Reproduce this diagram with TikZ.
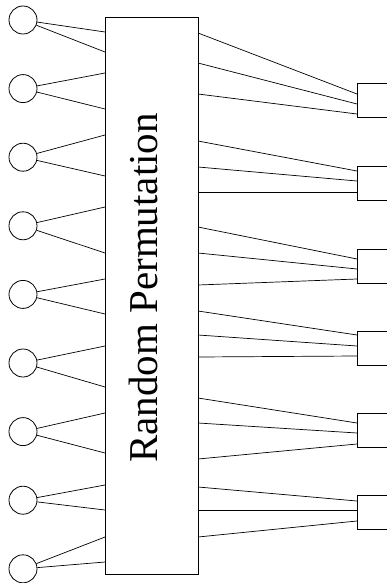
\documentclass[tikz,border=0pt]{standalone}
\usepackage{fontspec}
\setmainfont{Liberation Serif}
\begin{document}
\begin{tikzpicture}[x=1pt,y=-1pt,
  inp/.style={circle,draw,line width=0.8pt,minimum size=28pt,inner sep=0pt},
  outbox/.style={rectangle,draw,line width=0.8pt,minimum width=60pt,minimum height=34pt,inner sep=0pt,anchor=north west},
  permbox/.style={rectangle,draw,line width=0.8pt,minimum width=93pt,minimum height=557pt,inner sep=0pt,anchor=north west},
  wire/.style={line width=0.7pt},
  lbl/.style={rotate=90,anchor=base,font=\fontsize{41}{49}\selectfont}]
\clip (0,0) rectangle (387,583);
\node[permbox] (R) at (105,17) {};
\node[lbl] (T) at (157,288) {Random Permutation};
% input circles
\foreach \y [count=\i] in {20,88.6,157.2,225.8,294.4,363,431.6,500.2,568.8}
  \node[inp] (c\i) at (23,\y) {};
% entry points on the left side of the permutation box
\foreach \y [count=\i] in {32,52,73,109,135,176,207,253,279,314,346,387,413,453,485,510,537,562}
  \coordinate (L\i) at (105,\y);
\foreach \i [evaluate=\i as \a using int(2*\i-1), evaluate=\i as \b using int(2*\i)] in {1,...,9} {
  \draw[wire] (c\i) -- (L\a);
  \draw[wire] (c\i) -- (L\b);
}
% output boxes
\foreach \y [count=\i] in {83.5,166,249,331,413,495}
  \node[outbox] (b\i) at (357,\y) {};
% exit points on the right side of the permutation box
\foreach \y [count=\i] in {33,63,94,141,167,192,227,253,285,311,335,357,398,423,459,487,510,537}
  \coordinate (Rr\i) at (198,\y);
% entry points on the output boxes
\foreach \y [count=\i] in {94,104,114,171,181,192,259,269,279,335,346,356,423,433,444,501,510,521}
  \coordinate (B\i) at (357,\y);
\foreach \i in {1,...,18}
  \draw[wire] (Rr\i) -- (B\i);
\end{tikzpicture}
\end{document}
